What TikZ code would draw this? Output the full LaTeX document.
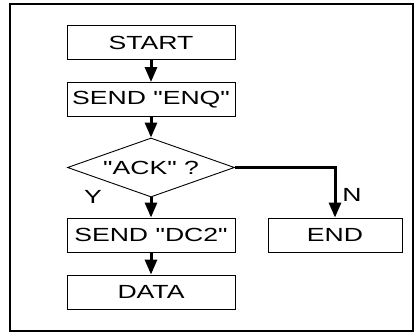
\documentclass[tikz,border=0pt]{standalone}
\usepackage{fontspec}
\setmainfont[FakeStretch=1.4,Ligatures=TeXOff]{Liberation Sans}
\usetikzlibrary{arrows.meta,shapes.geometric}

\begin{document}
\begin{tikzpicture}[x=1pt,y=1pt,node distance=57pt,
    font=\fontsize{19}{21}\selectfont,
    box/.style={draw,line width=0.9pt,minimum width=168pt,minimum height=34pt,inner sep=0pt},
    decision/.style={diamond,draw,line width=0.9pt,aspect=2.8,minimum width=167pt,minimum height=59pt,inner sep=0pt},
    flow/.style={line width=3pt,-{Triangle[length=15pt,width=12pt]}}]
  \useasboundingbox (0,0) rectangle (415,333);
  \draw[line width=1.2pt] (10,2) rectangle (413,329);

  \node[box]      (start) at (151,290.5)                 {START};
  \node[box]      (enq)  [below of=start]                {SEND "ENQ"};
  \node[decision] (ack)  [below of=enq,node distance=68pt] {"ACK" ?};
  \node[box]      (dc2)  [below of=ack,node distance=67.5pt] {SEND "DC2"};
  \node[box]      (data) [below of=dc2]                  {DATA};
  \node[box,minimum width=134pt] (end) [right of=dc2,node distance=184pt] {END};
  \node (yes) at (93,136) {Y};
  \node (no)  at (352,138) {N};

  \path[flow] (start) edge (enq)
              (enq)   edge (ack)
              (ack)   edge (dc2)
              (dc2)   edge (data)
              (ack.east) edge[to path={-| (\tikztotarget)}] (end);
\end{tikzpicture}
\end{document}
